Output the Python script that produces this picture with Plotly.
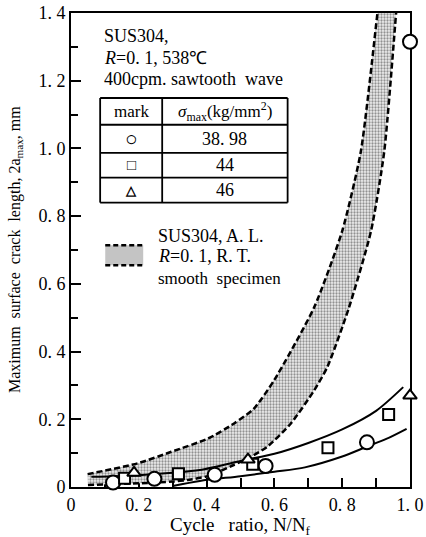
import plotly.graph_objects as go

# ---- data ----
cycle_circle = [0.124, 0.246, 0.424, 0.574, 0.873, 1.0]
crack_circle = [0.013, 0.024, 0.036, 0.062, 0.132, 1.315]
cycle_square = [0.158, 0.317, 0.536, 0.758, 0.937]
crack_square = [0.026, 0.039, 0.067, 0.116, 0.214]
cycle_tri = [0.186, 0.522, 1.0]
crack_tri = [0.042, 0.081, 0.27]

fit_hi_x = [0.06, 0.20, 0.30, 0.38, 0.51, 0.60, 0.70, 0.80, 0.90, 0.98]
fit_hi_y = [0.030, 0.035, 0.042, 0.050, 0.079, 0.098, 0.130, 0.170, 0.225, 0.295]
fit_lo_x = [0.30, 0.38, 0.50, 0.60, 0.69, 0.80, 0.87, 0.93, 0.99]
fit_lo_y = [0.003, 0.018, 0.032, 0.045, 0.058, 0.090, 0.118, 0.142, 0.172]

band_hi_x = [0.049, 0.197, 0.296, 0.404, 0.48, 0.539, 0.599, 0.717, 0.80, 0.855, 0.904, 0.916]
band_hi_y = [0.038, 0.070, 0.104, 0.143, 0.187, 0.231, 0.315, 0.530, 0.756, 0.991, 1.40, 1.50]
band_lo_x = [0.05, 0.20, 0.30, 0.345, 0.404, 0.48, 0.53, 0.579, 0.648, 0.717, 0.756, 0.82, 0.885, 0.924, 0.959, 0.967]
band_lo_y = [0.006, 0.011, 0.016, 0.021, 0.032, 0.065, 0.089, 0.119, 0.187, 0.285, 0.354, 0.53, 0.756, 0.991, 1.40, 1.50]

x_ticks = [0, 0.2, 0.4, 0.6, 0.8, 1.0]
x_ticktext = ["0", "0. 2", "0. 4", "0. 6", "0. 8", "1. 0"]
y_ticks = [0, 0.2, 0.4, 0.6, 0.8, 1.0, 1.2, 1.4]
y_ticktext = ["0", "0. 2", "0. 4", "0. 6", "0. 8", "1. 0", "1. 2", "1. 4"]

table_marks = ["○", "□", "△"]
table_sigma = ["38. 98", "44", "46"]

FONT = "Liberation Serif"

fig = go.Figure()

# scatter band (lower edge, then upper edge filled to it)
fig.add_trace(go.Scatter(x=band_lo_x, y=band_lo_y, mode="lines",
                         line=dict(color="black", width=2.5, dash="6px,3px", shape="spline", smoothing=0.6),
                         hoverinfo="skip"))
fig.add_trace(go.Scatter(x=band_hi_x, y=band_hi_y, mode="lines", fill="tonexty",
                         fillcolor="rgba(0,0,0,0)",
                         fillpattern=dict(shape=".", fgcolor="#333333", bgcolor="#eeeeee", size=3, solidity=0.45),
                         line=dict(color="black", width=2.5, dash="6px,3px", shape="spline", smoothing=0.6),
                         hoverinfo="skip"))

# solid fitted curves
fig.add_trace(go.Scatter(x=fit_hi_x, y=fit_hi_y, mode="lines",
                         line=dict(color="black", width=2, shape="spline", smoothing=0.8)))
fig.add_trace(go.Scatter(x=fit_lo_x, y=fit_lo_y, mode="lines",
                         line=dict(color="black", width=2, shape="spline", smoothing=0.8)))

# data points
mk = dict(color="white", line=dict(color="black", width=2))
fig.add_trace(go.Scatter(x=cycle_circle, y=crack_circle, mode="markers", cliponaxis=False,
                         marker=dict(symbol="circle", size=14, **mk)))
fig.add_trace(go.Scatter(x=cycle_square, y=crack_square, mode="markers", cliponaxis=False,
                         marker=dict(symbol="square", size=11, **mk)))
fig.add_trace(go.Scatter(x=cycle_tri, y=crack_tri, mode="markers", cliponaxis=False,
                         marker=dict(symbol="triangle-up", size=12, **mk)))

ann = []
def txt(x, y, s, size=18, xanchor="left"):
    ann.append(dict(x=x, y=y, xref="x", yref="y", text=s, showarrow=False,
                    xanchor=xanchor, yanchor="middle",
                    font=dict(family=FONT, size=size, color="black")))

txt(0.092, 1.332, "SUS304,")
txt(0.092, 1.267, "<i>R</i>=0. 1, 538℃")
txt(0.092, 1.205, "400cpm. sawtooth&nbsp; wave", size=18)

# table
tx0, tx1, txm = 0.086, 0.639, 0.269
row_lines = [1.149, 1.070, 0.987, 0.914, 0.840]
shapes = []
for i, yl in enumerate(row_lines):
    shapes.append(dict(type="line", xref="x", yref="y", x0=tx0, x1=tx1, y0=yl, y1=yl,
                       line=dict(color="black", width=1.8)))
for xv in (tx0, txm, tx1):
    shapes.append(dict(type="line", xref="x", yref="y", x0=xv, x1=xv, y0=row_lines[0], y1=row_lines[-1],
                       line=dict(color="black", width=1.8)))
txt((tx0 + txm) / 2, (row_lines[0] + row_lines[1]) / 2, "mark", size=17, xanchor="center")
txt((txm + tx1) / 2, (row_lines[0] + row_lines[1]) / 2,
    "<i>σ</i><sub>max</sub>(kg/mm<sup>2</sup>)", size=17, xanchor="center")
mark_sizes = [21, 15, 13]
for i in range(3):
    yc = (row_lines[i + 1] + row_lines[i + 2]) / 2
    txt((tx0 + txm) / 2, yc, "<b>" + table_marks[i] + "</b>", size=mark_sizes[i], xanchor="center")
    txt((txm + tx1) / 2, yc, table_sigma[i], size=18, xanchor="center")

# band legend swatch
shapes.append(dict(type="rect", xref="x", yref="y", x0=0.101, x1=0.213, y0=0.655, y1=0.714,
                   fillcolor="#c4c4c4", line=dict(width=0), layer="above"))
for yl in (0.655, 0.714):
    shapes.append(dict(type="line", xref="x", yref="y", x0=0.101, x1=0.213, y0=yl, y1=yl,
                       line=dict(color="black", width=2.5, dash="5px,3px")))
txt(0.251, 0.740, "SUS304, A. L.", size=18)
txt(0.251, 0.683, "<i>R</i>=0. 1, R. T.", size=18)
txt(0.251, 0.617, "smooth&nbsp; specimen", size=17)

# axis titles
ann.append(dict(x=-0.165, y=0.5, xref="paper", yref="paper", textangle=-90, showarrow=False,
                text="Maximum&nbsp; surface&nbsp; crack&nbsp; length, 2a<sub>max</sub>, mm",
                xanchor="center", yanchor="middle", font=dict(family=FONT, size=16, color="black")))
ann.append(dict(x=0.5, y=-0.082, xref="paper", yref="paper", showarrow=False,
                text="Cycle&nbsp;&nbsp; ratio, N/N<sub>f</sub>",
                xanchor="center", yanchor="middle", font=dict(family=FONT, size=19, color="black")))

fig.update_layout(
    width=426, height=537,
    margin=dict(l=71, r=16, t=13, b=50, autoexpand=False),
    paper_bgcolor="white", plot_bgcolor="white",
    showlegend=False,
    font=dict(family=FONT, size=17, color="black"),
    annotations=ann, shapes=shapes,
    xaxis=dict(range=[0, 1.0], showgrid=False, zeroline=False, showline=True, linecolor="black",
               linewidth=2, mirror=True, ticks="inside", ticklen=9, tickwidth=1.5, tickcolor="black",
               tickvals=x_ticks, ticktext=x_ticktext, layer="below traces", automargin=False,
               minor=dict(tickvals=[0.1, 0.3, 0.5, 0.7, 0.9], ticks="inside", ticklen=9,
                          tickwidth=1.5, tickcolor="black"),
               tickfont=dict(family=FONT, size=18)),
    yaxis=dict(range=[0, 1.4], showgrid=False, zeroline=False, showline=True, linecolor="black",
               linewidth=2, mirror=True, ticks="inside", ticklen=10, tickwidth=1.5, tickcolor="black",
               tickvals=y_ticks, ticktext=y_ticktext, layer="below traces", automargin=False,
               minor=dict(tickvals=[0.1, 0.3, 0.5, 0.7, 0.9, 1.1, 1.3], ticks="inside", ticklen=7,
                          tickwidth=1.5, tickcolor="black"),
               tickfont=dict(family=FONT, size=18)),
)

fig.write_html("out.html")
